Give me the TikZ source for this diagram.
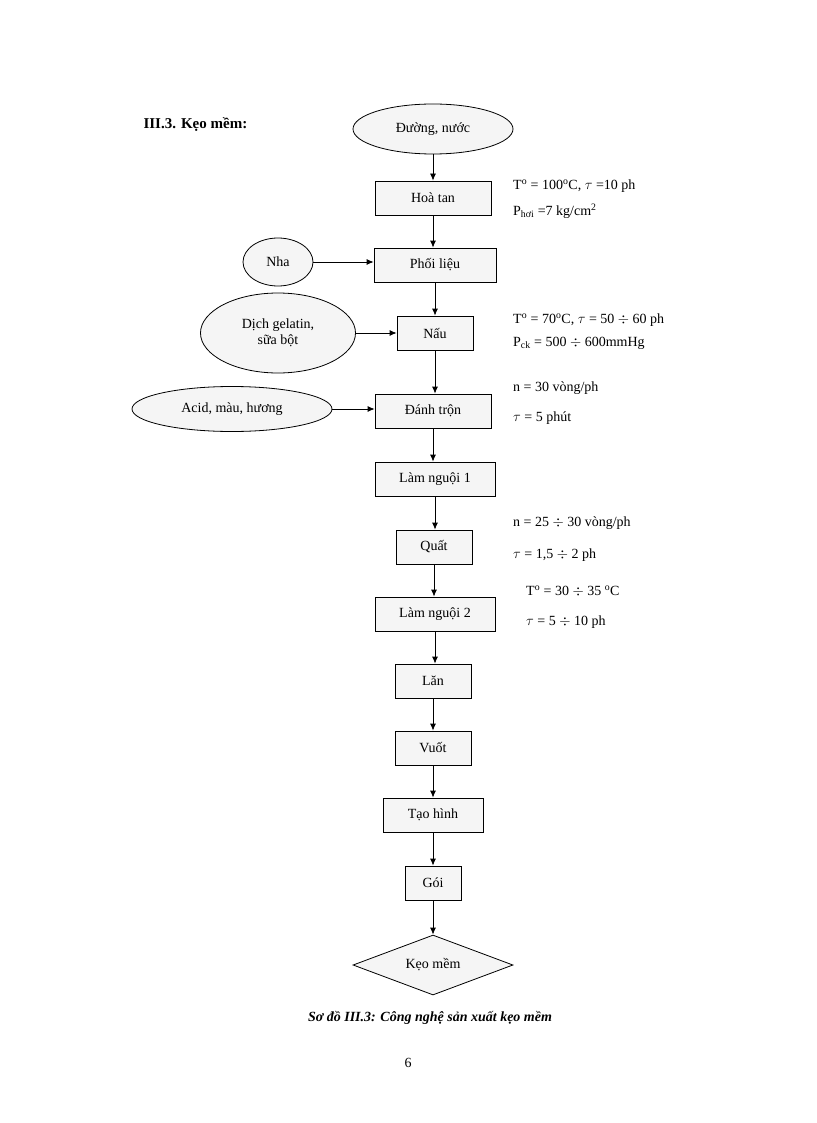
\documentclass[tikz,border=0pt]{standalone}
\usepackage{fontspec}
\setmainfont{Liberation Serif}
\usetikzlibrary{shapes.geometric,arrows.meta}
\begin{document}
\begin{tikzpicture}[x=1pt,y=-1pt,font=\fontsize{14}{16}\selectfont,
	box/.style={draw,thick,fill=black!4,minimum height=34pt,inner sep=0pt},
	oval/.style={draw,thick,ellipse,fill=black!4,inner sep=0pt,align=center},
	note/.style={anchor=west,inner sep=0pt},
	arr/.style={thick,-{Latex[length=7pt,width=6pt]}}]
	\useasboundingbox (0,0) rectangle (816,1123);
	\node[anchor=west,font=\fontsize{15}{17}\selectfont\bfseries] (title) at (140,125) {III.3. Kẹo mềm:};
	% main column
	\node[oval,minimum width=160pt,minimum height=50pt] (duong) at (433,129) {Đường, nước};
	\node[box,minimum width=116pt] (hoatan) at (433,198) {Hoà tan};
	\node[box,minimum width=122pt] (phoi) at (435,265) {Phối liệu};
	\node[box,minimum width=76pt] (nau) at (435,333) {Nấu};
	\node[box,minimum width=116pt] (danh) at (433,411) {Đánh trộn};
	\node[box,minimum width=120pt] (nguoi1) at (435,479) {Làm nguội 1};
	\node[box,minimum width=76pt] (quat) at (434,547) {Quất};
	\node[box,minimum width=120pt] (nguoi2) at (435,614) {Làm nguội 2};
	\node[box,minimum width=76pt] (lan) at (433,681) {Lăn};
	\node[box,minimum width=76pt] (vuot) at (433,748) {Vuốt};
	\node[box,minimum width=100pt] (taohinh) at (433,815) {Tạo hình};
	\node[box,minimum width=56pt] (goi) at (433,883) {Gói};
	\node[draw,thick,diamond,aspect=2.7,fill=black!4,minimum width=160pt,minimum height=60pt,inner sep=0pt] (keo) at (433,965) {Kẹo mềm};
	% inputs
	\node[oval,minimum width=70pt,minimum height=48pt] (nha) at (278,262) {Nha};
	\node[oval,minimum width=155pt,minimum height=80pt] (gelatin) at (278,333) {Dịch gelatin,\\ sữa bột};
	\node[oval,minimum width=200pt,minimum height=45pt] (acid) at (232,409) {Acid, màu, hương};
	% arrows
	\draw[arr] (duong) -- (hoatan);
	\foreach \a/\b in {hoatan/phoi,phoi/nau,nau/danh,danh/nguoi1,nguoi1/quat,quat/nguoi2,nguoi2/lan,lan/vuot,vuot/taohinh,taohinh/goi,goi/keo}
		\draw[arr] (\a.south) -- (\a.south |- \b.north);
	\draw[arr] (nha) -- (nha -| phoi.west);
	\draw[arr] (gelatin) -- (gelatin -| nau.west);
	\draw[arr] (acid) -- (acid -| danh.west);
	% conditions
	\node[note] (c1) at (513,186) {T\textsuperscript{o} = 100\textsuperscript{o}C, $\tau$ =10 ph};
	\node[note] (c2) at (513,211) {P\textsubscript{hơi} =7 kg/cm\textsuperscript{2}};
	\node[note] (c3) at (513,320) {T\textsuperscript{o} = 70\textsuperscript{o}C, $\tau$ = 50 $\div$ 60 ph};
	\node[note] (c4) at (513,343) {P\textsubscript{ck} = 500 $\div$ 600mmHg};
	\node[note] (c5) at (513,388) {n = 30 vòng/ph};
	\node[note] (c6) at (513,418) {$\tau$ = 5 phút};
	\node[note] (c7) at (513,523) {n = 25 $\div$ 30 vòng/ph};
	\node[note] (c8) at (513,555) {$\tau$ = 1,5 $\div$ 2 ph};
	\node[note] (c9) at (526,591) {T\textsuperscript{o} = 30 $\div$ 35 \textsuperscript{o}C};
	\node[note] (c10) at (526,622) {$\tau$ = 5 $\div$ 10 ph};
	% caption
	\node[font=\fontsize{14}{16}\selectfont\bfseries\itshape] (cap) at (430,1018) {Sơ đồ III.3: Công nghệ sản xuất kẹo mềm};
	\node (page) at (408,1063) {6};
\end{tikzpicture}
\end{document}
